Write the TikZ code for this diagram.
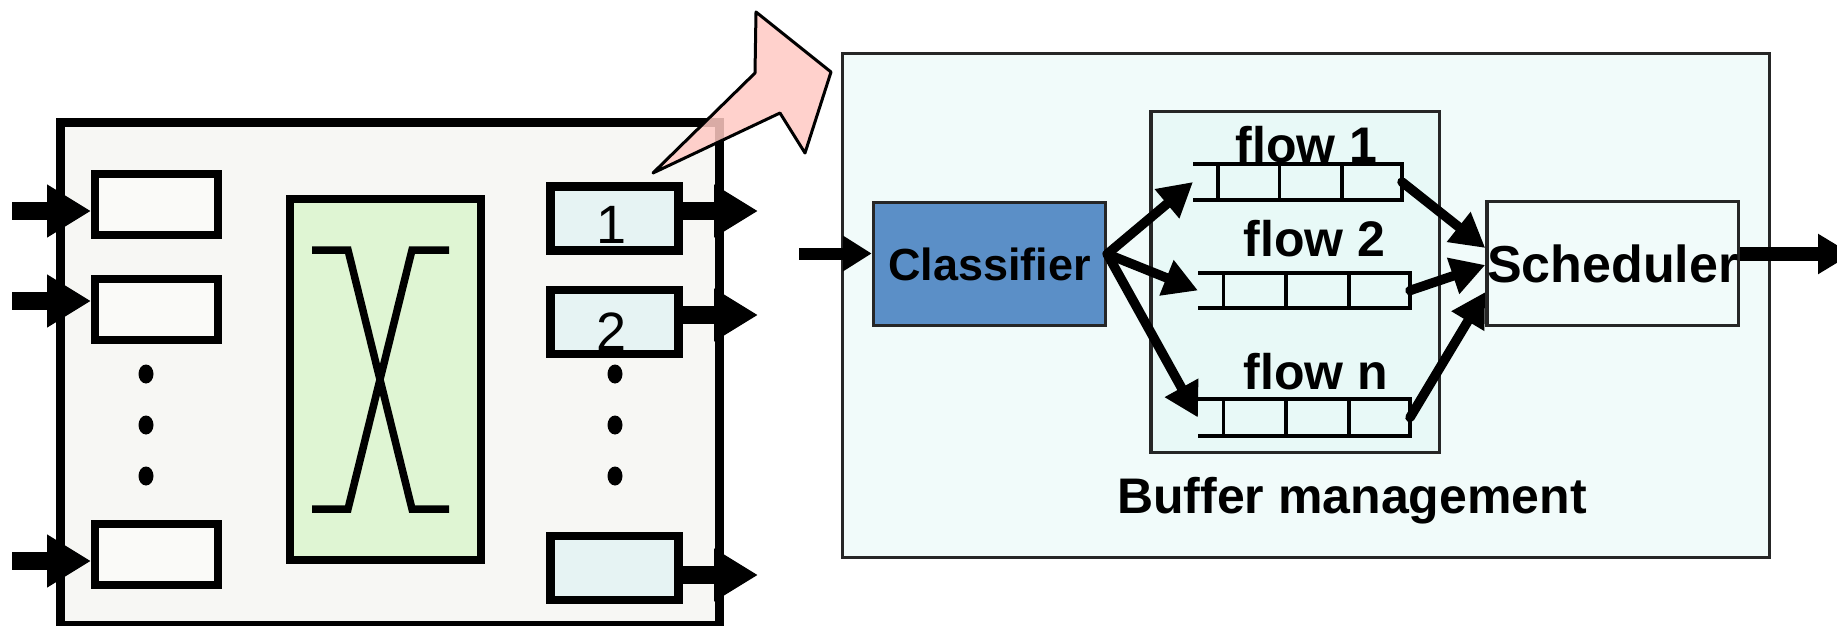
\documentclass[tikz,border=0pt]{standalone}
\usepackage{fontspec}
\setmainfont{Liberation Sans}
\usetikzlibrary{arrows.meta,calc}
\definecolor{leftfill}{HTML}{F7F7F4}
\definecolor{inboxfill}{HTML}{FAFAF8}
\definecolor{switchfill}{HTML}{DFF5D3}
\definecolor{outfill}{HTML}{E6F3F3}
\definecolor{rightfill}{HTML}{F1FBFA}
\definecolor{flowfill}{HTML}{E8F9F7}
\definecolor{clsfill}{HTML}{5B8FC7}
\definecolor{pinkfill}{HTML}{FFC9C3}
\newcommand\queuelines[1]{%
  \draw[qline] (#1.north west) -- (#1.north east) -- (#1.south east) -- (#1.south west);
  \foreach \f in {0.12,0.415,0.712}
    \draw[qline] ($(#1.north west)!\f!(#1.north east)$) -- ($(#1.south west)!\f!(#1.south east)$);
}
\begin{document}
\begin{tikzpicture}[x=1pt,y=-1pt,
  inbox/.style={draw=black, line width=8pt, fill=inboxfill, minimum width=123pt, minimum height=61pt, inner sep=0pt},
  outbox/.style={draw=black, line width=8.5pt, fill=outfill, minimum width=128pt, minimum height=64pt, inner sep=0pt},
  thinbox/.style={draw=black!85, line width=3.5pt, inner sep=0pt},
  queue/.style={minimum width=#1, minimum height=36pt, inner sep=0pt, outer sep=0pt},
  qline/.style={line width=3.5pt, draw=black},
  big/.style={line width=18pt, -{Triangle[length=44pt,width=50pt]}},
  mid/.style={line width=9.5pt, line cap=round, -{Triangle[length=34pt,width=36pt]}},
  lbl/.style={inner sep=0pt, anchor=base, text=black},
  dot/.style={fill=black}]
\useasboundingbox (0,0) rectangle (1837,626);

% ---------- left: router ----------
\node[draw=black, line width=9pt, fill=leftfill, minimum width=659pt, minimum height=502.5pt, inner sep=0pt] (router) at (390,373.75) {};
\node[inbox] (in1) at (156.5,204.5) {};
\node[inbox] (in2) at (156.5,309) {};
\node[inbox] (in3) at (156.5,554.5) {};
\node[draw=black, line width=8pt, fill=switchfill, minimum width=191pt, minimum height=361pt, inner sep=0pt] (switch) at (385.5,379.5) {};
\draw[line width=7.5pt] (312,250) -- (348,250) -- (412,509) -- (449,509);
\draw[line width=7.5pt] (449,250) -- (412,250) -- (348,509) -- (312,509);
\node[outbox] (out1) at (614.5,218.5) {};
\node[outbox] (out2) at (614.5,322) {};
\node[outbox] (out3) at (614.5,568) {};
\node[lbl, font=\fontsize{54pt}{60pt}\selectfont] (l1) at (612,243) {1};
\node[lbl, font=\fontsize{54pt}{60pt}\selectfont] (l2) at (612,350) {2};
\foreach \y in {374,425,476} {
  \fill[dot] (146,\y) ellipse [x radius=7.5, y radius=9.5];
  \fill[dot] (615,\y) ellipse [x radius=7.5, y radius=9.5];
}
\coordinate (i1) at (12,211);
\coordinate (i2) at (12,301);
\coordinate (i3) at (12,561);
\draw[big] (i1) -- (in1.west |- i1);
\draw[big] (i2) -- (in2.west |- i2);
\draw[big] (i3) -- (in3.west |- i3);
\coordinate (o1) at (758,211);
\coordinate (o2) at (758,315);
\coordinate (o3) at (758,575);
\draw[big] (out1.east |- o1) -- (o1);
\draw[big] (out2.east |- o2) -- (o2);
\draw[big] (out3.east |- o3) -- (o3);

% callout
\draw[fill=pinkfill, fill opacity=0.85, draw=black, line width=3pt, line join=round]
  (653,173) -- (755,73) -- (756,12) -- (831,72) -- (805,153) -- (780,113) -- cycle;

% ---------- right: buffer management ----------
\node[thinbox, fill=rightfill, minimum width=927pt, minimum height=504pt] (bm) at (1306,305.5) {};
\node[thinbox, fill=flowfill, minimum width=288.5pt, minimum height=341pt] (flows) at (1295.25,281.85) {};
\node[thinbox, fill=clsfill, minimum width=232pt, minimum height=123pt,
      font=\fontsize{45pt}{50pt}\selectfont\bfseries] (cls) at (989.5,264) {Classifier};
\node[thinbox, fill=rightfill, minimum width=246.5pt, minimum height=124pt,
      font=\fontsize{52pt}{58pt}\selectfont\bfseries] (sch) at (1612.75,263.5) {Scheduler};

\node[queue=209pt] (q1) at (1297.5,182) {};
\node[queue=212pt, minimum height=35pt] (q2) at (1304,290.5) {};
\node[queue=212pt, minimum height=37pt] (qn) at (1304,417.5) {};
\queuelines{q1}
\queuelines{q2}
\queuelines{qn}

\node[lbl, font=\fontsize{50pt}{56pt}\selectfont\bfseries] (f1) at (1306.5,162) {flow 1};
\node[lbl, font=\fontsize{50pt}{56pt}\selectfont\bfseries] (f2) at (1314.5,256) {flow 2};
\node[lbl, font=\fontsize{50pt}{56pt}\selectfont\bfseries] (fn) at (1316,389) {flow n};
\node[lbl, font=\fontsize{50pt}{56pt}\selectfont\bfseries] (bml) at (1352,513) {Buffer management};

\draw[mid] ([yshift=10pt]cls.east) -- (q1.west);
\draw[mid] ([yshift=10pt]cls.east) -- (q2.west);
\draw[mid] ([yshift=10pt]cls.east) -- (qn.west);
\draw[mid] (q1.east) -- ([yshift=15.5pt]sch.west);
\draw[mid] (q2.east) -- ([yshift=-1.5pt]sch.west);
\draw[mid] (qn.east) -- ([yshift=-28.5pt]sch.west);

\coordinate (cin) at (799,253.5);
\draw[line width=12pt, -{Triangle[length=29pt,width=34pt]}] (cin) -- (cin -| cls.west);
\coordinate (sout) at (1852,254);
\draw[line width=14pt, -{Triangle[length=34pt,width=38pt]}] (sch.east |- sout) -- (sout);
\end{tikzpicture}
\end{document}
